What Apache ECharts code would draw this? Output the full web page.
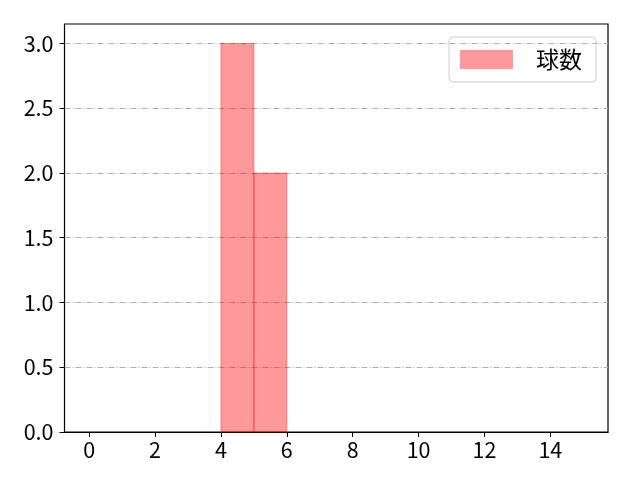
<!DOCTYPE html>
<html>
<head>
<meta charset="utf-8">
<script src="https://cdn.jsdelivr.net/npm/echarts@6/dist/echarts.min.js"></script>
<style>
  html, body { margin: 0; padding: 0; background: #fff; }
  #chart { width: 640px; height: 480px; }
</style>
</head>
<body>
<div id="chart"></div>
<script>
// histogram bins (left edges, right edges) and counts
const binStarts = [4, 5];
const binEnds = [5, 6];
const counts = [3, 2];
const seriesName = '球数';
const xTicks = [0, 2, 4, 6, 8, 10, 12, 14];
const yTicks = [0, 0.5, 1, 1.5, 2, 2.5, 3];

const font = '"Noto Sans CJK JP", "DejaVu Sans", sans-serif';

let barData = [];
for (let i = 0; i < counts.length; i++) {
    barData.push([binStarts[i], binEnds[i], counts[i]]);
}

let myChart = echarts.init(document.getElementById('chart'), null, { renderer: 'canvas' });

let option = {
    animation: false,
    textStyle: { fontFamily: font },
    grid: {
        left: 64.5, right: 32, top: 24, bottom: 48,
        show: true, borderColor: '#000', borderWidth: 1.2, backgroundColor: 'transparent'
    },
    legend: {
        data: [seriesName],
        right: 44, top: 37,
        orient: 'vertical',
        padding: [11, 14, 11, 11],
        itemWidth: 53, itemHeight: 19, itemGap: 10,
        borderColor: '#ccc', borderWidth: 1, borderRadius: 4,
        icon: 'rect',
        textStyle: { fontFamily: font, fontSize: 23, color: '#000', padding: [0, 0, 0, 18] }
    },
    xAxis: {
        type: 'value',
        min: -0.75, max: 15.75,
        axisLine: { show: true, onZero: false, lineStyle: { color: '#000', width: 1.2 } },
        splitLine: { show: false },
        axisTick: { show: true, length: 5, lineStyle: { color: '#000' }, customValues: xTicks },
        axisLabel: { customValues: xTicks, color: '#000', fontSize: 21.5, fontFamily: font, margin: 7 }
    },
    yAxis: {
        type: 'value',
        min: 0, max: 3.15,
        interval: 0.5,
        axisLine: { show: false, onZero: false },
        axisTick: { show: true, length: 5, lineStyle: { color: '#000' }, customValues: yTicks },
        axisLabel: {
            customValues: yTicks, color: '#000', fontSize: 21.5, fontFamily: font, margin: 11,
            formatter: v => v.toFixed(1)
        },
        splitLine: {
            show: true, showMinLine: false,
            lineStyle: { color: '#b0b0b0', width: 1, type: [6, 2, 1, 2] }
        }
    },
    series: [
        {
            name: seriesName,
            type: 'custom',
            itemStyle: { color: 'rgba(255,0,0,0.4)' },
            renderItem: function (params, api) {
                let p0 = api.coord([api.value(0), api.value(2)]);
                let p1 = api.coord([api.value(1), 0]);
                return {
                    type: 'rect',
                    shape: { x: p0[0], y: p0[1], width: p1[0] - p0[0], height: p1[1] - p0[1] },
                    style: { fill: 'rgba(255,0,0,0.4)', stroke: 'rgba(255,0,0,0.4)', lineWidth: 1 }
                };
            },
            encode: { x: [0, 1], y: 2 },
            data: barData
        }
    ]
};

myChart.setOption(option);
</script>
</body>
</html>
